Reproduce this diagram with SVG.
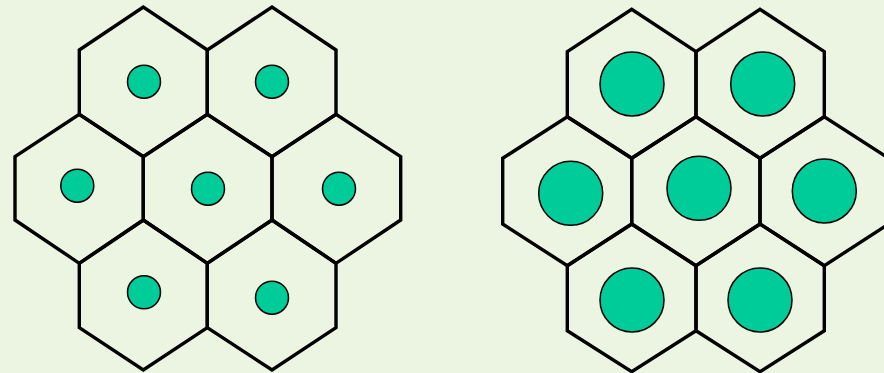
<svg xmlns="http://www.w3.org/2000/svg" width="884" height="373" viewBox="0 0 884 373">
<style>
.bg{fill:#EBF5E1}
.hex{fill:none;stroke:#000;stroke-width:3.4;stroke-linejoin:miter}
.dot{fill:#00CC99;stroke:#000;stroke-width:1.5}
</style>
<rect class="bg" x="0" y="0" width="884" height="373"/>
<g id="left-cluster">
<g id="L-TL"><polygon class="hex" points="79.3,50 143.3,7 207.3,50 207.3,114.3 143.3,156.7 79.3,114.3"/><circle class="dot" cx="144" cy="81.7" r="16.5"/></g>
<g id="L-TR"><polygon class="hex" points="207.3,50 272,7 336,50 336,114.3 272,156.7 207.3,114.3"/><circle class="dot" cx="272" cy="81.7" r="16.5"/></g>
<g id="L-ML"><polygon class="hex" points="15,156.7 79.3,114.3 143.3,156.7 143.3,220 79.3,263.3 15,220"/><circle class="dot" cx="77.3" cy="185.7" r="16.5"/></g>
<g id="L-MC"><polygon class="hex" points="143.3,156.7 207.3,114.3 272,156.7 272,220 207.3,263.3 143.3,220"/><circle class="dot" cx="208" cy="188.7" r="16.5"/></g>
<g id="L-MR"><polygon class="hex" points="272,156.7 336,114.3 400.7,156.7 400.7,220 336,263.3 272,220"/><circle class="dot" cx="339" cy="188.7" r="16.5"/></g>
<g id="L-BL"><polygon class="hex" points="79.3,263.3 143.3,220 207.3,263.3 207.3,327.7 143.3,370 79.3,327.7"/><circle class="dot" cx="144" cy="292.3" r="16.5"/></g>
<g id="L-BR"><polygon class="hex" points="207.3,263.3 272,220 336,263.3 336,327.7 272,370 207.3,327.7"/><circle class="dot" cx="272" cy="297.7" r="16.5"/></g>
</g>
<g id="right-cluster">
<g id="R-TL"><polygon class="hex" points="567.3,51.7 631.7,9.3 696,51.7 696,116.7 631.7,158.3 567.3,116.7"/><circle class="dot" cx="632" cy="84" r="32"/></g>
<g id="R-TR"><polygon class="hex" points="696,51.7 760,9.3 824.3,51.7 824.3,116.7 760,158.3 696,116.7"/><circle class="dot" cx="762.7" cy="84" r="32"/></g>
<g id="R-ML"><polygon class="hex" points="502.7,158.3 567.3,116.7 631.7,158.3 631.7,224 567.3,265.7 502.7,224"/><circle class="dot" cx="570.7" cy="193.3" r="32"/></g>
<g id="R-MC"><polygon class="hex" points="631.7,158.3 696,116.7 760,158.3 760,224 696,265.7 631.7,224"/><circle class="dot" cx="699" cy="188.3" r="32"/></g>
<g id="R-MR"><polygon class="hex" points="760,158.3 824.3,116.7 888.7,158.3 888.7,224 824.3,265.7 760,224"/><circle class="dot" cx="824.3" cy="191" r="32"/></g>
<g id="R-BL"><polygon class="hex" points="567.3,265.7 631.7,224 696,265.7 696,330.7 631.7,371.7 567.3,330.7"/><circle class="dot" cx="632" cy="300" r="32"/></g>
<g id="R-BR"><polygon class="hex" points="696,265.7 760,224 824.3,265.7 824.3,330.7 760,371.7 696,330.7"/><circle class="dot" cx="760" cy="300" r="32"/></g>
</g>
</svg>
